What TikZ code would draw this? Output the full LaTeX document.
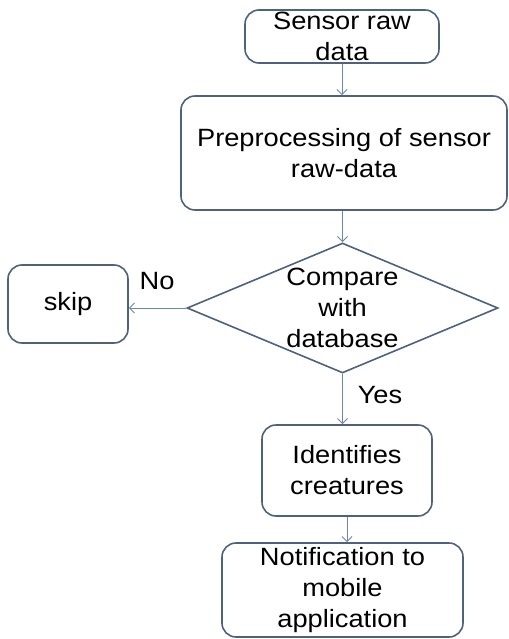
\documentclass[tikz,border=0pt]{standalone}
\usepackage{fontspec}
\setmainfont{Liberation Sans}[FakeStretch=1.09]
\usetikzlibrary{shapes.geometric,arrows.meta}

\definecolor{boxline}{RGB}{79,98,124}
\definecolor{arrowline}{RGB}{105,135,175}

\begin{document}
\begin{tikzpicture}[x=1pt, y=-1pt,
        stepbox/.style={draw=boxline, line width=1.6pt, rounded corners=14pt, align=center, inner sep=0pt},
        decision/.style={diamond, draw=boxline, line width=1.6pt, aspect=2.4, align=center, inner sep=0pt},
        flow/.style={arrowline, line width=1pt, -{Straight Barb[length=5pt,width=10pt]}},
        every node/.style={font=\fontsize{25}{31}\selectfont}]
        \useasboundingbox (0,0) rectangle (508,639);
        \node[stepbox, minimum width=194pt, minimum height=53pt] (raw) at (342,36.5) {\fontsize{25}{29}\selectfont Sensor raw\\data};
        \node[stepbox, minimum width=326pt, minimum height=114pt] (prep) at (344,153) {Preprocessing of sensor\\raw-data};
        \node[decision, minimum width=311pt, minimum height=130pt] (cmp) at (342.5,308) {\fontsize{25}{32.5}\selectfont Compare\\with\\database};
        \node[stepbox, minimum width=120pt, minimum height=78pt] (skip) at (68,304) {skip};
        \node[stepbox, minimum width=170pt, minimum height=91pt] (ident) at (347,470.5) {Identifies\\creatures};
        \node[stepbox, minimum width=241pt, minimum height=94pt] (notif) at (342.5,590) {Notification to\\mobile\\application};
        \node (no) at (157,281) {No};
        \node (yes) at (380,395) {Yes};
        \draw[flow] (raw.south) -- (raw.south |- prep.north);
        \draw[flow] (prep.south -| cmp.north) -- (cmp.north);
        \draw[flow] (cmp.west) -- (cmp.west -| skip.east);
        \draw[flow] (cmp.south) -- (cmp.south |- ident.north);
        \draw[flow] (ident.south) -- (ident.south |- notif.north);
\end{tikzpicture}
\end{document}
